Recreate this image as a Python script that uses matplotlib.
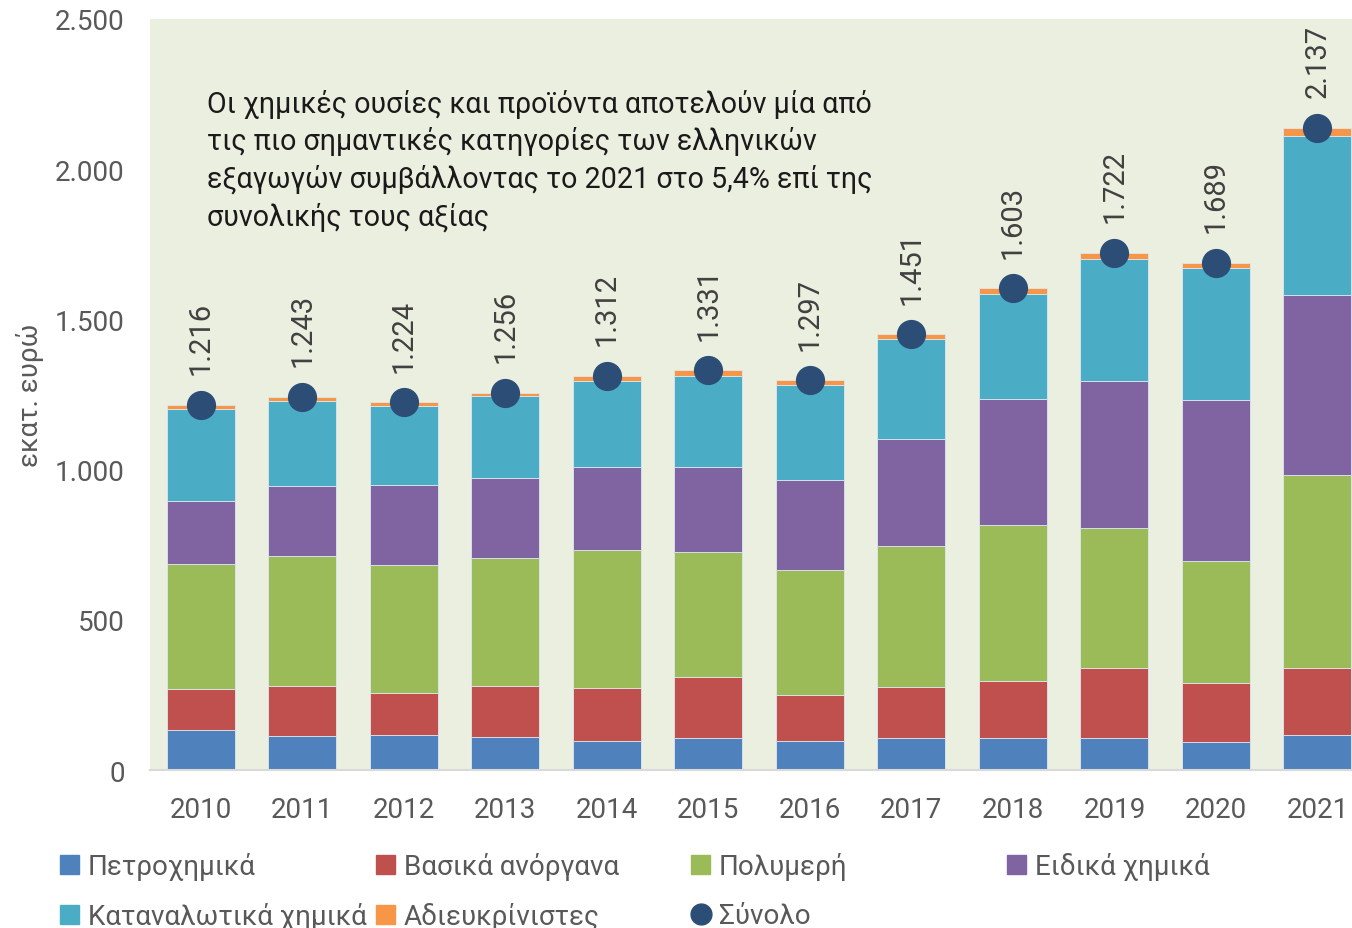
import numpy as np
import matplotlib.pyplot as plt
from matplotlib.ticker import FuncFormatter
from matplotlib.lines import Line2D
from matplotlib.patches import Patch

plt.rcParams['font.family'] = ['Roboto', 'DejaVu Sans']

years = ["2010", "2011", "2012", "2013", "2014", "2015",
         "2016", "2017", "2018", "2019", "2020", "2021"]

# values in million euro
petrochem = [133, 114, 115, 111, 96, 105, 98, 105, 108, 105, 92, 118]
inorganic = [138, 167, 141, 170, 177, 206, 152, 172, 189, 235, 199, 222]
polymers = [414, 430, 428, 424, 459, 415, 416, 469, 519, 466, 405, 643]
specialty = [211, 233, 264, 268, 278, 284, 300, 355, 420, 490, 537, 599]
consumer = [307, 285, 265, 271, 286, 303, 317, 333, 349, 406, 439, 529]
unspecified = [13, 14, 11, 12, 16, 18, 14, 17, 18, 20, 17, 26]
totals = [1216, 1243, 1224, 1256, 1312, 1331, 1297, 1451, 1603, 1722, 1689, 2137]

series = [
    ("Πετροχημικά", petrochem, "#4F81BD"),
    ("Βασικά ανόργανα", inorganic, "#C0504D"),
    ("Πολυμερή", polymers, "#9BBB59"),
    ("Ειδικά χημικά", specialty, "#8064A2"),
    ("Καταναλωτικά χημικά", consumer, "#4BACC6"),
    ("Αδιευκρίνιστες", unspecified, "#F79646"),
]
total_label = "Σύνολο"
total_color = "#2C4D75"

note = ("Οι χημικές ουσίες και προϊόντα αποτελούν μία από\n"
        "τις πιο σημαντικές κατηγορίες των ελληνικών\n"
        "εξαγωγών συμβάλλοντας το 2021 στο 5,4% επί της\n"
        "συνολικής τους αξίας")

W, H = 1352, 929
fig = plt.figure(figsize=(W / 100, H / 100), dpi=100)
ax = fig.add_axes([150 / W, 1 - 771 / H, (W - 150) / W, (771 - 20) / H])
ax.set_facecolor("#EBEFDF")

x = np.arange(len(years))
bottom = np.zeros(len(years))
for name, vals, col in series:
    ax.bar(x, vals, width=0.67, bottom=bottom, color=col, label=name,
           edgecolor="#DDE6F0", linewidth=0.6, zorder=2)
    bottom += np.array(vals)

# total markers and rotated labels
ax.scatter(x, totals, s=400, color=total_color, zorder=4, label=total_label)
for xi, t in zip(x, totals):
    ax.annotate(f"{t:,}".replace(",", "."), (xi, t), xytext=(0, 22),
                textcoords="offset points", rotation=90, ha="center", va="bottom",
                fontsize=21, color="#404040")

ax.set_xlim(-0.5, 11.34)
ax.set_ylim(0, 2500)
ax.set_yticks([0, 500, 1000, 1500, 2000, 2500])
ax.yaxis.set_major_formatter(FuncFormatter(lambda v, p: f"{v:,.0f}".replace(",", ".")))
ax.set_xticks(x)
ax.set_xticklabels(years)
ax.tick_params(axis="both", length=0, labelsize=20, labelcolor="#595959")
ax.tick_params(axis="y", pad=18)
ax.tick_params(axis="x", pad=19)
for s in ["top", "right", "left"]:
    ax.spines[s].set_visible(False)
ax.spines["bottom"].set_color("#D9D9D9")
ax.spines["bottom"].set_linewidth(1.5)
ax.set_ylabel("εκατ. ευρώ", fontsize=20, color="#595959", labelpad=8)

fig.text(207 / W, 1 - 90 / H, note, ha="left", va="top", fontsize=20.6,
         color="#1A1A1A", linespacing=1.36)

# legend laid out in fixed-width columns like the original
handles = [Patch(color=col) for _, _, col in series]
handles.append(Line2D([], [], marker="o", linestyle="", color=total_color, markersize=15))
labels = [name for name, _, _ in series] + [total_label]
columns = [[0, 4], [1, 5], [2, 6], [3]]
col_x = [60, 376, 691, 1007]
for cx, idx in zip(col_x, columns):
    leg = fig.legend([handles[i] for i in idx], [labels[i] for i in idx],
                     loc="upper left", bbox_to_anchor=(cx / W, 1 - 853 / H),
                     frameon=False, fontsize=20, handlelength=0.7, handleheight=0.7,
                     handletextpad=0.3, labelspacing=0.8, borderaxespad=0,
                     borderpad=0, labelcolor="#595959")

fig.savefig("out.png", dpi=100)
